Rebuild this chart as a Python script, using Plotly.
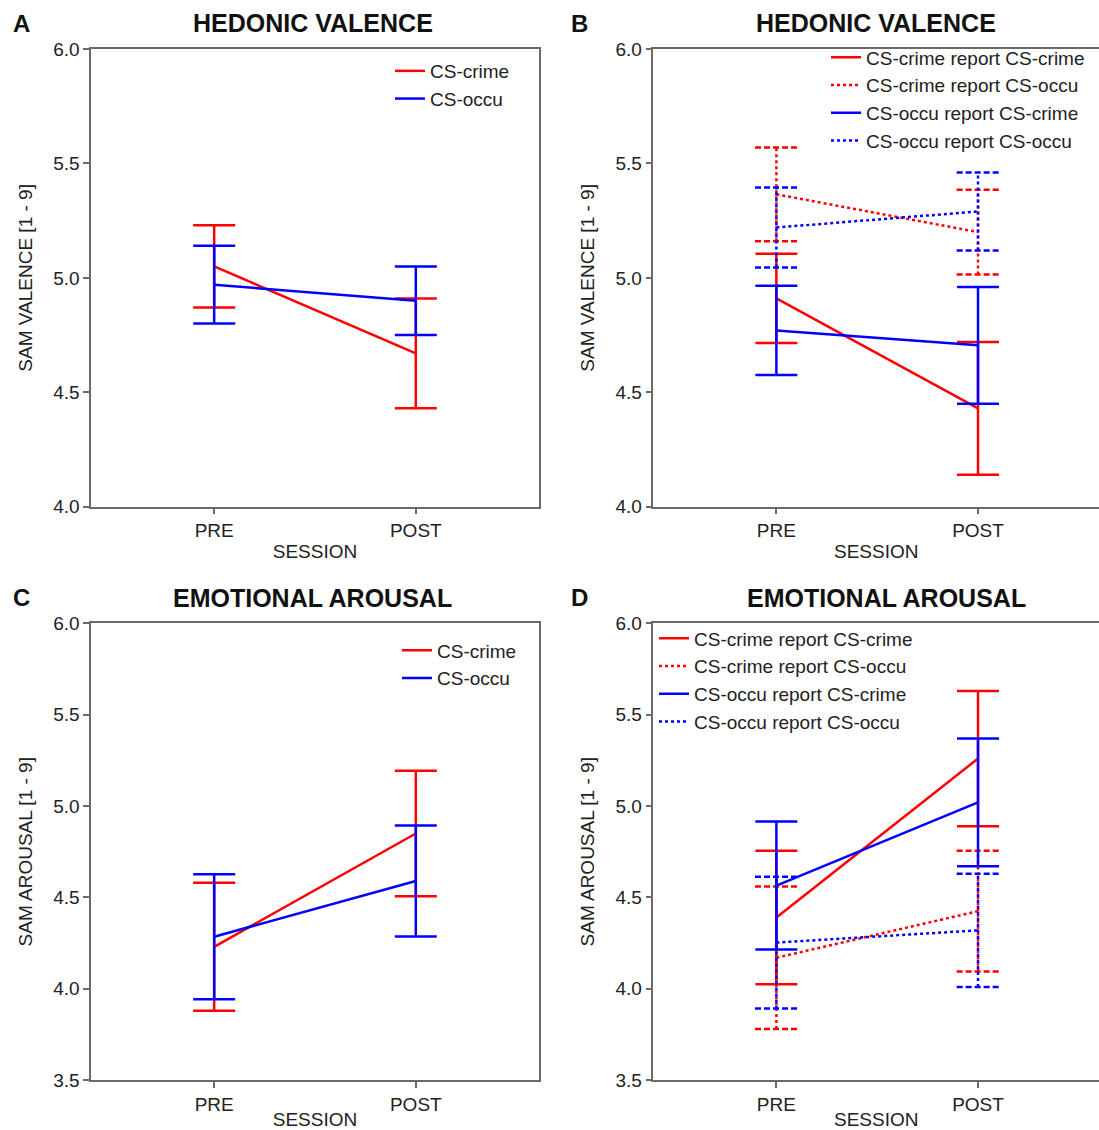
import plotly.graph_objects as go

# ---------------- data ----------------
sessions = ["PRE", "POST"]

# Panel A: hedonic valence by CS
valA_crime_mean = [5.05, 4.67]
valA_crime_err = [0.18, 0.24]
valA_occu_mean = [4.97, 4.90]
valA_occu_err = [0.17, 0.15]

# Panel B: hedonic valence by CS x report
valB_cc_mean = [4.91, 4.43]
valB_cc_err = [0.195, 0.29]
valB_co_mean = [5.365, 5.20]
valB_co_err = [0.205, 0.185]
valB_oc_mean = [4.77, 4.705]
valB_oc_err = [0.195, 0.255]
valB_oo_mean = [5.22, 5.29]
valB_oo_err = [0.175, 0.17]

# Panel C: emotional arousal by CS
aroC_crime_mean = [4.23, 4.85]
aroC_crime_err = [0.35, 0.343]
aroC_occu_mean = [4.285, 4.59]
aroC_occu_err = [0.342, 0.304]

# Panel D: emotional arousal by CS x report
aroD_cc_mean = [4.39, 5.26]
aroD_cc_err = [0.365, 0.37]
aroD_co_mean = [4.17, 4.425]
aroD_co_err = [0.39, 0.33]
aroD_oc_mean = [4.565, 5.02]
aroD_oc_err = [0.35, 0.35]
aroD_oo_mean = [4.253, 4.32]
aroD_oo_err = [0.36, 0.31]

valence_ticks = [4.0, 4.5, 5.0, 5.5, 6.0]
arousal_ticks = [3.5, 4.0, 4.5, 5.0, 5.5, 6.0]

# ---------------- style ----------------
W, H = 1099, 1130
RED = "#ff0000"
BLUE = "#0000ff"
LW = 2.5
CAP_PX = 21
CAP_DATA = 0.106   # half cap width in x-data units for dotted error bars
FONT = "Liberation Sans, Arial, sans-serif"
TXT = "#222222"
AXC = "#6a6a6a"
FS = 19
LFS = 19

def px2x(px):
    return px / W

def px2y(py):
    return 1 - py / H

x_pos = list(range(len(sessions)))

fig = go.Figure()

def solid_series(name, mean, err, color, xa, ya, legend):
    fig.add_trace(go.Scatter(
        x=x_pos, y=mean, mode="lines", name=name,
        line=dict(color=color, width=LW),
        error_y=dict(type="data", array=err, visible=True, color=color,
                     thickness=LW, width=CAP_PX),
        xaxis=xa, yaxis=ya, legend=legend,
    ))

def dotted_series(name, mean, err, color, xa, ya, legend):
    vx, vy, cx, cy = [], [], [], []
    for xi, m, e in zip(x_pos, mean, err):
        vx += [xi, xi, None]
        vy += [m - e, m + e, None]
        for yy in (m - e, m + e):
            cx += [xi - CAP_DATA, xi + CAP_DATA, None]
            cy += [yy, yy, None]
    fig.add_trace(go.Scatter(x=vx, y=vy, mode="lines", showlegend=False,
                             line=dict(color=color, width=LW, dash="dot"),
                             xaxis=xa, yaxis=ya, hoverinfo="skip"))
    fig.add_trace(go.Scatter(x=cx, y=cy, mode="lines", showlegend=False,
                             line=dict(color=color, width=LW, dash="6px,3px"),
                             xaxis=xa, yaxis=ya, hoverinfo="skip"))
    fig.add_trace(go.Scatter(x=x_pos, y=mean, mode="lines", name=name,
                             line=dict(color=color, width=LW, dash="dot"),
                             xaxis=xa, yaxis=ya, legend=legend))

# Panel A
solid_series("CS-crime", valA_crime_mean, valA_crime_err, RED, "x", "y", "legend")
solid_series("CS-occu", valA_occu_mean, valA_occu_err, BLUE, "x", "y", "legend")
# Panel B
solid_series("CS-crime report CS-crime", valB_cc_mean, valB_cc_err, RED, "x2", "y2", "legend2")
dotted_series("CS-crime report CS-occu", valB_co_mean, valB_co_err, RED, "x2", "y2", "legend2")
solid_series("CS-occu report CS-crime", valB_oc_mean, valB_oc_err, BLUE, "x2", "y2", "legend2")
dotted_series("CS-occu report CS-occu", valB_oo_mean, valB_oo_err, BLUE, "x2", "y2", "legend2")
# Panel C
solid_series("CS-crime", aroC_crime_mean, aroC_crime_err, RED, "x3", "y3", "legend3")
solid_series("CS-occu", aroC_occu_mean, aroC_occu_err, BLUE, "x3", "y3", "legend3")
# Panel D
solid_series("CS-crime report CS-crime", aroD_cc_mean, aroD_cc_err, RED, "x4", "y4", "legend4")
dotted_series("CS-crime report CS-occu", aroD_co_mean, aroD_co_err, RED, "x4", "y4", "legend4")
solid_series("CS-occu report CS-crime", aroD_oc_mean, aroD_oc_err, BLUE, "x4", "y4", "legend4")
dotted_series("CS-occu report CS-occu", aroD_oo_mean, aroD_oo_err, BLUE, "x4", "y4", "legend4")

dom_left = [px2x(91.2), px2x(538.8)]
dom_right = [px2x(653.4), 1.0]
dom_top = [px2y(506.7), px2y(49.0)]
dom_bot = [px2y(1080.2), px2y(623.3)]

def xaxis(domain, anchor, rng):
    return dict(domain=domain, anchor=anchor, range=rng, automargin=False,
                tickmode="array", tickvals=x_pos, ticktext=sessions,
                ticks="outside", ticklen=6, tickwidth=1.5, tickcolor=AXC,
                showline=True, linecolor=AXC, linewidth=1.5, mirror=True,
                showgrid=False, zeroline=False,
                tickfont=dict(size=FS, color=TXT, family=FONT),
                title=dict(text="SESSION", standoff=4,
                           font=dict(size=FS, color=TXT, family=FONT)))

def yaxis(domain, anchor, rng, tickvals, title):
    return dict(domain=domain, anchor=anchor, range=rng, automargin=False,
                tickmode="array", tickvals=tickvals,
                ticktext=[f"{v:.1f}" for v in tickvals],
                ticks="outside", ticklen=6, tickwidth=1.5, tickcolor=AXC,
                showline=True, linecolor=AXC, linewidth=1.5, mirror=True,
                showgrid=False, zeroline=False,
                tickfont=dict(size=FS, color=TXT, family=FONT),
                title=dict(text=title, standoff=16,
                           font=dict(size=FS, color=TXT, family=FONT)))

xr_left = [-0.61, 1.61]
xr_right = [-0.61, 1.6]

fig.update_layout(
    xaxis=xaxis(dom_left, "y", xr_left),
    yaxis=yaxis(dom_top, "x", [4.0, 6.0], valence_ticks, "SAM VALENCE [1 - 9]"),
    xaxis2=xaxis(dom_right, "y2", xr_right),
    yaxis2=yaxis(dom_top, "x2", [4.0, 6.0], valence_ticks, "SAM VALENCE [1 - 9]"),
    xaxis3=xaxis(dom_left, "y3", xr_left),
    yaxis3=yaxis(dom_bot, "x3", [3.5, 6.0], arousal_ticks, "SAM AROUSAL [1 - 9]"),
    xaxis4=xaxis(dom_right, "y4", xr_right),
    yaxis4=yaxis(dom_bot, "x4", [3.5, 6.0], arousal_ticks, "SAM AROUSAL [1 - 9]"),
)

leg_common = dict(font=dict(size=LFS, color=TXT, family=FONT), bgcolor="rgba(0,0,0,0)",
                  xanchor="left", yanchor="top", borderwidth=0)
fig.update_layout(
    legend=dict(x=px2x(390), y=px2y(52), **leg_common),
    legend2=dict(x=px2x(826), y=px2y(38.5), **leg_common),
    legend3=dict(x=px2x(397), y=px2y(631.5), **leg_common),
    legend4=dict(x=px2x(654), y=px2y(619.5), **leg_common),
)

annotations = []
for label, cx, cy in [("A", 21, 23.5), ("B", 579.5, 23.5), ("C", 21, 597.5), ("D", 579.5, 597.5)]:
    annotations.append(dict(text=f"<b>{label}</b>", x=px2x(cx), y=px2y(cy), xref="paper", yref="paper",
                            showarrow=False, xanchor="center", yanchor="middle",
                            font=dict(size=24, color="#111111", family=FONT)))
for label, cx, cy in [("HEDONIC VALENCE", 313, 23.5), ("HEDONIC VALENCE", 875.8, 23.5),
                      ("EMOTIONAL AROUSAL", 312.5, 597.5), ("EMOTIONAL AROUSAL", 886, 597.5)]:
    annotations.append(dict(text=f"<b>{label}</b>", x=px2x(cx), y=px2y(cy), xref="paper", yref="paper",
                            showarrow=False, xanchor="center", yanchor="middle",
                            font=dict(size=25, color="#111111", family=FONT)))

fig.update_layout(
    width=W, height=H,
    margin=dict(l=0, r=0, t=0, b=0, autoexpand=False),
    paper_bgcolor="white", plot_bgcolor="white",
    annotations=annotations,
    font=dict(family=FONT, color=TXT, size=FS),
)

fig.write_html("out.html", config={"displayModeBar": False},
               post_script="document.body.style.margin='0px';")
